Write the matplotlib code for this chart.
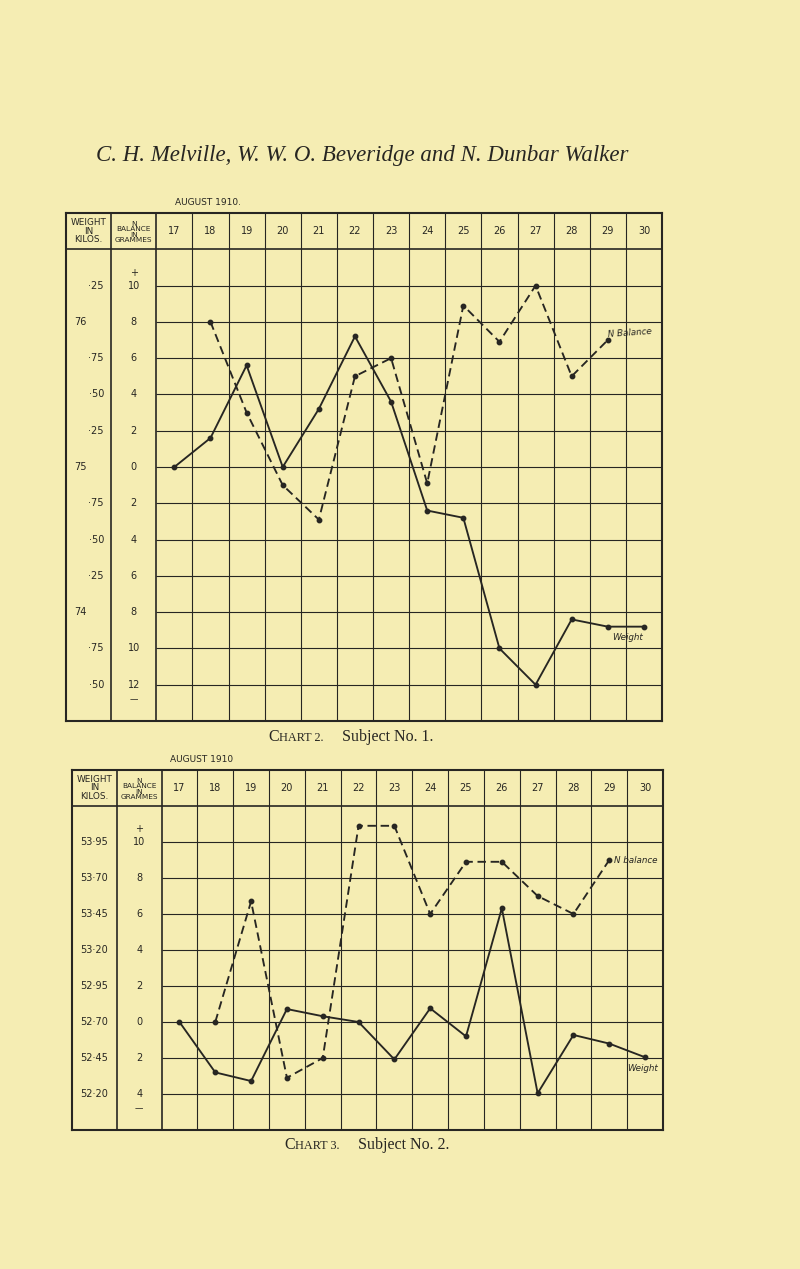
import numpy as np
import matplotlib.pyplot as plt

PAPER = '#f5edb3'
INK = '#272622'

days = np.arange(17, 31)
day_labels = [str(d) for d in days]

# Chart 2 - Subject No. 1 (weight in kilos, N balance in grammes)
weight_1 = [75.0, 75.2, 75.7, 75.0, 75.4, 75.9, 75.45, 74.7, 74.65, 73.75, 73.5, 73.95, 73.9, 73.9]
nbal_days_1 = np.arange(18, 30)
nbal_1 = [8.0, 3.0, -1.0, -2.9, 5.0, 6.0, -0.9, 8.9, 6.9, 10.0, 5.0, 7.0]
kilo_labels_1 = ['·25', '76', '·75', '·50', '·25', '75', '·75', '·50', '·25', '74', '·75', '·50']
gram_labels_1 = ['10', '8', '6', '4', '2', '0', '2', '4', '6', '8', '10', '12']

# Chart 3 - Subject No. 2
weight_2 = [52.70, 52.35, 52.29, 52.79, 52.74, 52.70, 52.44, 52.795, 52.60, 53.49, 52.205, 52.61, 52.55, 52.455]
nbal_days_2 = np.arange(18, 30)
nbal_2 = [0.0, 6.7, -3.1, -2.0, 10.9, 10.9, 6.0, 8.9, 8.9, 7.0, 6.0, 9.0]
kilo_labels_2 = ['53·95', '53·70', '53·45', '53·20', '52·95', '52·70', '52·45', '52·20']
gram_labels_2 = ['10', '8', '6', '4', '2', '0', '2', '4']

W, H = 800, 1269
fig = plt.figure(figsize=(8, 12.69), dpi=100, facecolor=PAPER)
sans = 'DejaVu Sans'
serif = 'Liberation Serif'


def px_axes(left, top, right, bottom):
    return fig.add_axes([left / W, 1 - bottom / H, (right - left) / W, (bottom - top) / H])


def table(ax, lo, kilo_labels, gram_labels, whole_left):
    ax.set_xlim(14, 30.5)
    ax.set_ylim(lo, 14)
    ax.set_facecolor('none')
    ax.set_xticks([])
    ax.set_yticks([])
    for s in ax.spines.values():
        s.set_linewidth(1.5)
        s.set_color(INK)
    ax.vlines([15.25, 16.5], lo, 14, color=INK, lw=1.2)
    ax.vlines(np.arange(17.5, 30.5), lo, 14, color=INK, lw=0.8)
    ax.hlines(12, 14, 30.5, color=INK, lw=1.2)
    ax.hlines(np.arange(lo + 2, 12, 2), 16.5, 30.5, color=INK, lw=0.8)

    ax.text(14.625, 13, 'WEIGHT\nIN\nKILOS.', ha='center', va='center', fontsize=6.4,
            linespacing=0.95, color=INK, family=sans)
    ax.text(15.875, 12.95, 'N\nBALANCE\nIN\nGRAMMES', ha='center', va='center', fontsize=5.3,
            linespacing=0.9, color=INK, family=sans)
    for d, lab in zip(days, day_labels):
        ax.text(d, 13, lab, ha='center', va='center', fontsize=7, color=INK, family=sans)

    levels = np.arange(10, lo, -2)
    for lev, kl, gl in zip(levels, kilo_labels, gram_labels):
        if whole_left and '·' not in kl:
            ax.text(14.22, lev, kl, ha='left', va='center', fontsize=7, color=INK, family=sans)
        elif whole_left:
            ax.text(15.05, lev, kl, ha='right', va='center', fontsize=7, color=INK, family=sans)
        else:
            ax.text(14.625, lev, kl, ha='center', va='center', fontsize=7, color=INK, family=sans)
        ax.text(15.875, lev, gl, ha='center', va='center', fontsize=7, color=INK, family=sans)
    ax.text(15.875, levels[0] + 0.7, '+', ha='center', va='center', fontsize=7, color=INK, family=sans)
    ax.text(15.875, levels[-1] - 0.8, '—', ha='center', va='center', fontsize=6, color=INK, family=sans)


def curves(ax, weight, w_zero, nb_days, nb):
    wn = (np.array(weight) - w_zero) * 8
    ax.plot(days, wn, color=INK, lw=1.35, marker='o', ms=3.2, zorder=5)
    ax.plot(nb_days, nb, color=INK, lw=1.35, dashes=(4.5, 2.5), marker='o', ms=3.2, zorder=5)


def caption(x, y, num, subject):
    # small caps "CHART n." followed by the subject
    t1 = fig.text(x, y, 'C', ha='left', va='baseline', fontsize=11.5, family=serif, color=INK)
    a2 = fig.add_artist(plt.Annotation(f'HART {num}.', xy=(1, 0), xycoords=t1, va='bottom',
                                       fontsize=8.8, family=serif, color=INK,
                                       xytext=(0.5, 0.6), textcoords='offset points'))
    fig.add_artist(plt.Annotation(f'Subject No. {subject}.', xy=(1, 0), xycoords=a2, va='bottom',
                                  fontsize=11.5, family=serif, color=INK,
                                  xytext=(13, -0.6), textcoords='offset points'))


fig.text(0.4525, 1 - 155 / H, 'C. H. Melville, W. W. O. Beveridge and N. Dunbar Walker',
         ha='center', va='center', fontsize=16.5, style='italic', family=serif, color=INK)

# Chart 2
ax1 = px_axes(66, 213, 662, 721)
table(ax1, -14, kilo_labels_1, gram_labels_1, True)
curves(ax1, weight_1, 75.0, nbal_days_1, nbal_1)
ax1.text(17.02, 14.35, 'AUGUST 1910.', ha='left', va='bottom', fontsize=6.5, color=INK,
         family=sans, clip_on=False)
ax1.text(28.99, 7.4, 'N Balance', ha='left', va='center', fontsize=6.3, style='italic',
         rotation=4, color=INK, family=sans)
ax1.text(29.12, -9.4, 'Weight', ha='left', va='center', fontsize=6.3, style='italic',
         color=INK, family=sans)
caption(268 / W, 1 - 741 / H, 2, 1)

# Chart 3
ax2 = px_axes(72, 770, 663, 1130)
table(ax2, -6, kilo_labels_2, gram_labels_2, False)
curves(ax2, weight_2, 52.70, nbal_days_2, nbal_2)
ax2.text(16.73, 14.35, 'AUGUST 1910', ha='left', va='bottom', fontsize=6.5, color=INK,
         family=sans, clip_on=False)
ax2.text(29.12, 8.95, 'N balance', ha='left', va='center', fontsize=6.3, style='italic',
         color=INK, family=sans)
ax2.text(29.5, -2.6, 'Weight', ha='left', va='center', fontsize=6.3, style='italic',
         color=INK, family=sans)
caption(284 / W, 1 - 1149 / H, 3, 2)

fig.savefig('out.png', dpi=100, facecolor=PAPER)
